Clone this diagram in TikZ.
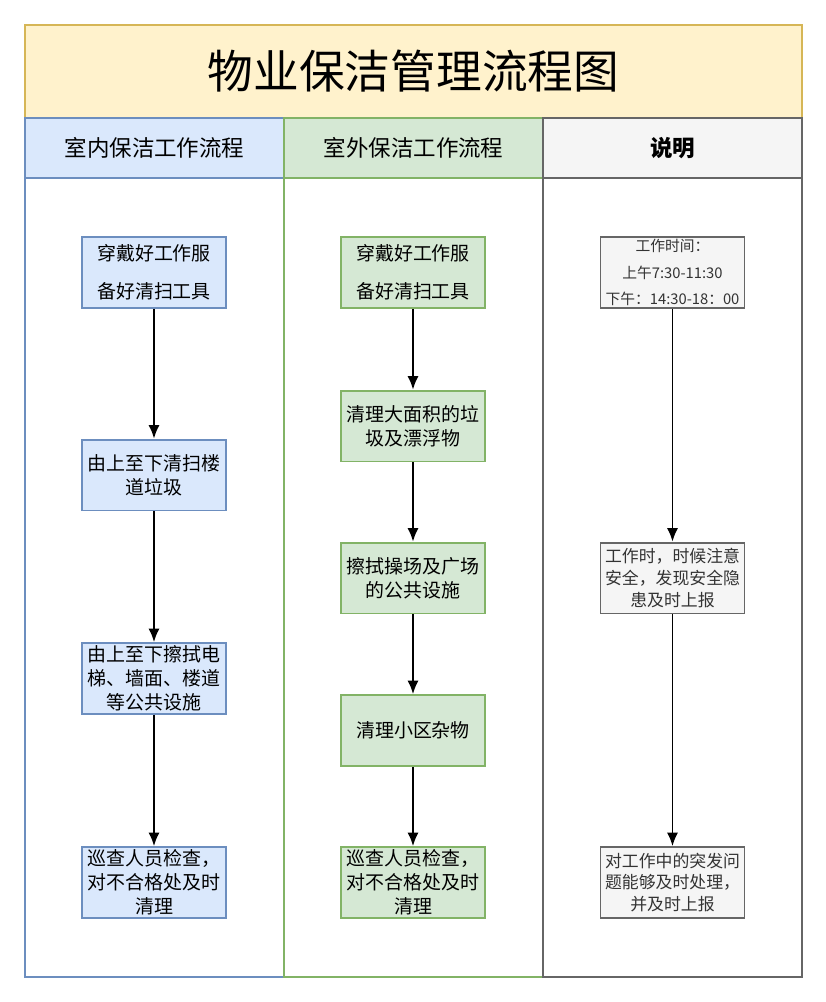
\documentclass[tikz,border=0pt]{standalone}
\usepackage{fontspec}
\setmainfont{Noto Sans CJK SC}
\usetikzlibrary{arrows.meta}
\definecolor{titlefill}{HTML}{FFF2CC}
\definecolor{titleline}{HTML}{D6B656}
\definecolor{bluefill}{HTML}{DAE8FC}
\definecolor{blueline}{HTML}{6C8EBF}
\definecolor{greenfill}{HTML}{D5E8D4}
\definecolor{greenline}{HTML}{82B366}
\definecolor{grayfill}{HTML}{F5F5F5}
\definecolor{grayline}{HTML}{666666}
\begin{document}
\begin{tikzpicture}[x=0.025cm,y=-0.025cm,
    stepbox/.style={minimum width=3.6cm,minimum height=1.77cm,inner sep=1pt,
      align=center,line width=1.3pt,font=\fontsize{13.5}{17}\selectfont},
    bluebox/.style={stepbox,draw=blueline,fill=bluefill},
    greenbox/.style={stepbox,draw=greenline,fill=greenfill},
    graybox/.style={stepbox,draw=grayline,fill=grayfill,text=black!80,
      font=\fontsize{12}{15.5}\selectfont},
    arr/.style={line width=1.4pt,-{Latex[length=3.4mm,width=2.8mm]}}]

    \useasboundingbox (0,0) rectangle (826,1002);
    % 标题
    \draw[line width=1.3pt,draw=titleline,fill=titlefill] (25,25) rectangle (802,118);
    \node (title) at (413.5,71.5) {\fontsize{32.5}{38}\selectfont 物业保洁管理流程图};
    % 三列
    \draw[line width=1.3pt,draw=blueline,fill=bluefill] (25,118) rectangle (284,178);
    \draw[line width=1.3pt,draw=blueline] (25,178) rectangle (284,977);
    \draw[line width=1.3pt,draw=greenline,fill=greenfill] (284,118) rectangle (543,178);
    \draw[line width=1.3pt,draw=greenline] (284,178) rectangle (543,977);
    \draw[line width=1.3pt,draw=grayline,fill=grayfill] (543,118) rectangle (802,178);
    \draw[line width=1.3pt,draw=grayline] (543,178) rectangle (802,977);
    \node (h1) at (154.5,148) {\fontsize{16}{20}\selectfont 室内保洁工作流程};
    \node (h2) at (413.5,148) {\fontsize{16}{20}\selectfont 室外保洁工作流程};
    \node (h3) at (672.5,148) {\fontsize{16}{20}\selectfont\bfseries 说明};

    % 室内
    \node[bluebox] (a1) at (154,272.5) {穿戴好工作服\\[10pt]备好清扫工具};
    \node[bluebox] (a2) at (154,475) {由上至下清扫楼\\道垃圾};
    \node[bluebox] (a3) at (154,678.5) {由上至下擦拭电\\梯、墙面、楼道\\等公共设施};
    \node[bluebox] (a4) at (154,882.5) {巡查人员检查，\\对不合格处及时\\清理};
    \draw[arr] (a1) -- (a2);
    \draw[arr] (a2) -- (a3);
    \draw[arr] (a3) -- (a4);

    % 室外
    \node[greenbox] (b1) at (413,272.5) {穿戴好工作服\\[10pt]备好清扫工具};
    \node[greenbox] (b2) at (413,426) {清理大面积的垃\\圾及漂浮物};
    \node[greenbox] (b3) at (413,578) {擦拭操场及广场\\的公共设施};
    \node[greenbox] (b4) at (413,730.5) {清理小区杂物};
    \node[greenbox] (b5) at (413,882.5) {巡查人员检查，\\对不合格处及时\\清理};
    \draw[arr] (b1) -- (b2);
    \draw[arr] (b2) -- (b3);
    \draw[arr] (b3) -- (b4);
    \draw[arr] (b4) -- (b5);

    % 说明
    \node[graybox,font=\fontsize{10.5}{19}\selectfont] (c1) at (672.5,272.5) {工作时间：\\上午7:30-11:30\\下午：14:30-18：00};
    \node[graybox] (c2) at (672.5,578) {工作时，时候注意\\安全，发现安全隐\\患及时上报};
    \node[graybox] (c3) at (672.5,882.5) {对工作中的突发问\\题能够及时处理，\\并及时上报};
    \draw[arr] (c1) -- (c2);
    \draw[arr] (c2) -- (c3);
\end{tikzpicture}
\end{document}
